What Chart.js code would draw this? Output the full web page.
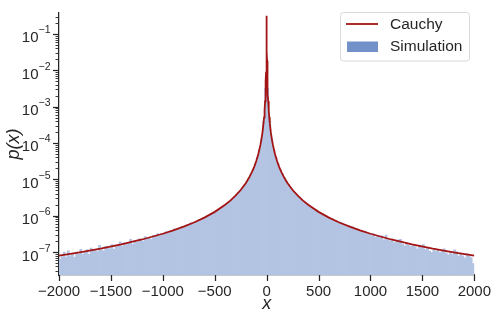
<!DOCTYPE html>
<html>
<head>
<meta charset="utf-8">
<script src="https://cdn.jsdelivr.net/npm/chart.js@4/dist/chart.umd.min.js"></script>
<style>
html,body{margin:0;padding:0;background:#fff;}
#wrap{width:499px;height:317px;}
</style>
</head>
<body>
<div id="wrap"><canvas id="c" width="499" height="317"></canvas></div>
<script>
// Histogram bins: edges from -2000 step 20 (200 bins)
const binStart = -2000;
const binWidth = 20;
// Simulation density per bin (left to right)
const simValues = [
6.4e-8,7.5e-8,9.9e-8,7.3e-8,1.07e-7,7.8e-8,8.6e-8,7.1e-8,1.0e-7,8.7e-8,
1.19e-7,8.6e-8,1.02e-7,1.17e-7,8.6e-8,1.28e-7,1.06e-7,1.19e-7,1.03e-7,1.53e-7,
1.15e-7,1.07e-7,1.44e-7,1.32e-7,1.23e-7,1.60e-7,1.19e-7,1.56e-7,1.47e-7,1.90e-7,
1.44e-7,1.80e-7,1.61e-7,1.78e-7,2.25e-7,1.62e-7,2.05e-7,1.84e-7,2.29e-7,2.08e-7,
1.98e-7,2.66e-7,2.24e-7,2.51e-7,2.22e-7,2.87e-7,2.70e-7,3.21e-7,2.76e-7,3.21e-7,
3.09e-7,3.58e-7,3.25e-7,3.79e-7,3.72e-7,4.34e-7,3.96e-7,4.45e-7,4.44e-7,5.09e-7,
4.74e-7,5.48e-7,5.55e-7,6.33e-7,6.00e-7,6.69e-7,6.88e-7,7.84e-7,7.70e-7,8.73e-7,
8.97e-7,9.90e-7,1.02e-6,1.16e-6,1.20e-6,1.33e-6,1.40e-6,1.59e-6,1.69e-6,1.91e-6,
2.07e-6,2.28e-6,2.63e-6,2.90e-6,3.30e-6,3.81e-6,4.33e-6,5.08e-6,6.06e-6,7.18e-6,
8.86e-6,1.10e-5,1.42e-5,1.90e-5,2.64e-5,3.98e-5,6.62e-5,1.32e-4,3.97e-4,3.2e-3,
3.2e-3,3.96e-4,1.33e-4,6.60e-5,3.99e-5,2.66e-5,1.89e-5,1.43e-5,1.10e-5,8.80e-6,
7.25e-6,6.00e-6,5.12e-6,4.35e-6,3.77e-6,3.34e-6,2.91e-6,2.58e-6,2.35e-6,2.07e-6,
1.90e-6,1.70e-6,1.58e-6,1.43e-6,1.34e-6,1.21e-6,1.14e-6,1.04e-6,9.85e-7,9.05e-7,
8.30e-7,8.26e-7,7.24e-7,7.23e-7,6.29e-7,6.64e-7,5.79e-7,5.72e-7,4.99e-7,5.30e-7,
4.66e-7,4.94e-7,4.19e-7,4.29e-7,3.70e-7,3.96e-7,3.57e-7,3.74e-7,3.18e-7,3.25e-7,
2.84e-7,3.15e-7,2.57e-7,2.84e-7,2.49e-7,2.79e-7,2.14e-7,2.94e-7,2.21e-7,2.03e-7,
2.26e-7,1.83e-7,1.96e-7,2.17e-7,2.25e-7,1.66e-7,1.49e-7,1.80e-7,1.56e-7,1.40e-7,
1.57e-7,1.40e-7,1.21e-7,1.56e-7,1.34e-7,1.61e-7,1.17e-7,1.29e-7,1.06e-7,9.6e-8,
1.14e-7,1.06e-7,1.17e-7,9.6e-8,1.05e-7,1.22e-7,9.5e-8,8.4e-8,9.9e-8,8.6e-8,
1.15e-7,1.03e-7,7.7e-8,9.3e-8,7.9e-8,6.8e-8,9.0e-8,7.7e-8,7.0e-8,4.8e-8
];
// Cauchy curve
const cauchyX = [-2000,-1800,-1600,-1400,-1200,-1000,-900,-800,-700,-600,-500,-400,-350,-300,-250,-200,-170,-140,-120,-100,-80,-60,-50,-40,-30,-25,-20,-15,-12,-10,-8,-6,-5,-4,-3,-2.5,-2,-1.5,-1,-0.6,-0.3,0,
0.3,0.6,1,1.5,2,2.5,3,4,5,6,8,10,12,15,20,25,30,40,50,60,80,100,120,140,170,200,250,300,350,400,500,600,700,800,900,1000,1200,1400,1600,1800,2000];
const cauchyY = [7.96e-8,9.82e-8,1.243e-7,1.624e-7,2.21e-7,3.18e-7,3.93e-7,4.97e-7,6.50e-7,8.84e-7,1.273e-6,1.989e-6,2.60e-6,3.54e-6,5.09e-6,7.96e-6,1.101e-5,1.624e-5,2.21e-5,3.18e-5,4.97e-5,8.84e-5,1.273e-4,1.989e-4,3.53e-4,5.09e-4,7.94e-4,1.411e-3,2.19e-3,3.15e-3,4.90e-3,8.60e-3,1.224e-2,1.872e-2,3.18e-2,4.39e-2,6.37e-2,9.79e-2,1.592e-1,2.34e-1,2.92e-1,3.18e-1,
2.92e-1,2.34e-1,1.592e-1,9.79e-2,6.37e-2,4.39e-2,3.18e-2,1.872e-2,1.224e-2,8.60e-3,4.90e-3,3.15e-3,2.19e-3,1.411e-3,7.94e-4,5.09e-4,3.53e-4,1.989e-4,1.273e-4,8.84e-5,4.97e-5,3.18e-5,2.21e-5,1.624e-5,1.101e-5,7.96e-6,5.09e-6,3.54e-6,2.60e-6,1.989e-6,1.273e-6,8.84e-7,6.50e-7,4.97e-7,3.93e-7,3.18e-7,2.21e-7,1.624e-7,1.243e-7,9.82e-8,7.96e-8];
const yDecades = [-7,-6,-5,-4,-3,-2,-1];
const xTicks = [-2000,-1500,-1000,-500,0,500,1000,1500,2000];
const legendLabels = ['Cauchy','Simulation'];

const simCenters = simValues.map((_, i) => binStart + binWidth * (i + 0.5));
const FONT = '"Liberation Sans", Arial, sans-serif';
const INK = '#262626';

const decorations = {
  id: 'decorations',
  afterDraw(chart) {
    const {ctx, chartArea: a, scales: {x, y}} = chart;
    ctx.save();
    ctx.strokeStyle = INK;
    // y ticks (major + minor)
    for (let e = -9; e <= 0; e++) {
      for (let m = 1; m <= 9; m++) {
        const v = m * Math.pow(10, e);
        if (v < y.min || v > y.max) continue;
        const py = Math.round(y.getPixelForValue(v)) + 0.5;
        const len = m === 1 ? 6 : 3.5;
        ctx.lineWidth = m === 1 ? 1.25 : 0.9;
        ctx.beginPath(); ctx.moveTo(a.left - len, py); ctx.lineTo(a.left, py); ctx.stroke();
      }
    }
    // x ticks
    ctx.lineWidth = 1.25;
    xTicks.forEach(v => {
      const px = Math.round(x.getPixelForValue(v)) + 0.5;
      ctx.beginPath(); ctx.moveTo(px, a.bottom); ctx.lineTo(px, a.bottom + 6); ctx.stroke();
    });
    // y tick labels 10^n
    ctx.fillStyle = INK;
    ctx.textBaseline = 'alphabetic';
    ctx.textAlign = 'left';
    yDecades.forEach(e => {
      const py = y.getPixelForValue(Math.pow(10, e));
      const mainFont = '15px ' + FONT, expFont = '10.5px ' + FONT;
      const expTxt = '\u2212' + Math.abs(e);
      ctx.font = mainFont; const w1 = ctx.measureText('10').width;
      ctx.font = expFont; const w2 = ctx.measureText(expTxt).width;
      const right = a.left - 8.5;
      const x0 = right - w1 - w2;
      ctx.font = mainFont; ctx.fillText('10', x0, py + 8.5);
      ctx.font = expFont; ctx.fillText(expTxt, x0 + w1, py - 0.5);
    });
    // axis titles
    ctx.font = 'italic 18px ' + FONT;
    ctx.textAlign = 'center';
    ctx.textBaseline = 'alphabetic';
    ctx.fillText('x', (a.left + a.right) / 2, 309);
    ctx.save();
    ctx.translate(14, (a.top + a.bottom) / 2);
    ctx.rotate(-Math.PI / 2);
    ctx.textBaseline = 'middle';
    ctx.fillText('p(x)', 0, 0);
    ctx.restore();
    // legend
    const bx = 340.5, by = 12.5, bw = 129, bh = 48.5, r = 3;
    ctx.beginPath();
    ctx.moveTo(bx + r, by); ctx.lineTo(bx + bw - r, by); ctx.arcTo(bx + bw, by, bx + bw, by + r, r);
    ctx.lineTo(bx + bw, by + bh - r); ctx.arcTo(bx + bw, by + bh, bx + bw - r, by + bh, r);
    ctx.lineTo(bx + r, by + bh); ctx.arcTo(bx, by + bh, bx, by + bh - r, r);
    ctx.lineTo(bx, by + r); ctx.arcTo(bx, by, bx + r, by, r); ctx.closePath();
    ctx.fillStyle = 'rgba(255,255,255,0.85)'; ctx.fill();
    ctx.strokeStyle = '#d9d9d9'; ctx.lineWidth = 1; ctx.stroke();
    ctx.strokeStyle = '#a31515'; ctx.lineWidth = 1.8;
    ctx.beginPath(); ctx.moveTo(346, 24); ctx.lineTo(378, 24); ctx.stroke();
    ctx.fillStyle = '#7391c8';
    ctx.fillRect(347, 41.5, 31, 10.5);
    ctx.fillStyle = INK;
    ctx.font = '15.5px ' + FONT;
    ctx.textAlign = 'left'; ctx.textBaseline = 'middle';
    ctx.fillText(legendLabels[0], 390, 24.5);
    ctx.fillText(legendLabels[1], 390, 47);
    ctx.restore();
  }
};

new Chart(document.getElementById('c'), {
  type: 'bar',
  data: {
    datasets: [
      {
        type: 'line',
        label: legendLabels[0],
        data: cauchyX.map((v, i) => ({x: v, y: cauchyY[i]})),
        borderColor: '#a31515',
        borderWidth: 1.8,
        pointRadius: 0,
        tension: 0,
        fill: false,
        order: 1
      },
      {
        type: 'bar',
        label: legendLabels[1],
        data: simCenters.map((c, i) => ({x: c, y: simValues[i]})),
        backgroundColor: '#b3c4e3',
        borderWidth: 0,
        barPercentage: 1,
        categoryPercentage: 1,
        order: 2
      }
    ]
  },
  options: {
    responsive: false,
    animation: false,
    devicePixelRatio: 1,
    layout: {padding: {left: 0, right: 22, top: 13, bottom: 0}},
    plugins: {legend: {display: false}, tooltip: {enabled: false}},
    scales: {
      x: {
        type: 'linear', min: -2000, max: 2000, offset: false,
        grid: {display: false, drawTicks: false},
        border: {display: true, color: INK, width: 1.25},
        ticks: {
          stepSize: 500, padding: 8, color: INK,
          font: {size: 15, family: FONT},
          maxRotation: 0,
          callback: v => String(v).replace('-', '\u2212')
        },
        afterFit(s) { s.height = 42; }
      },
      y: {
        type: 'logarithmic', min: 2.33e-8, max: 0.378,
        grid: {display: false, drawTicks: false},
        border: {display: true, color: INK, width: 1.25},
        ticks: {display: false},
        afterFit(s) { s.width = 59; }
      }
    }
  },
  plugins: [decorations]
});
</script>
</body>
</html>
